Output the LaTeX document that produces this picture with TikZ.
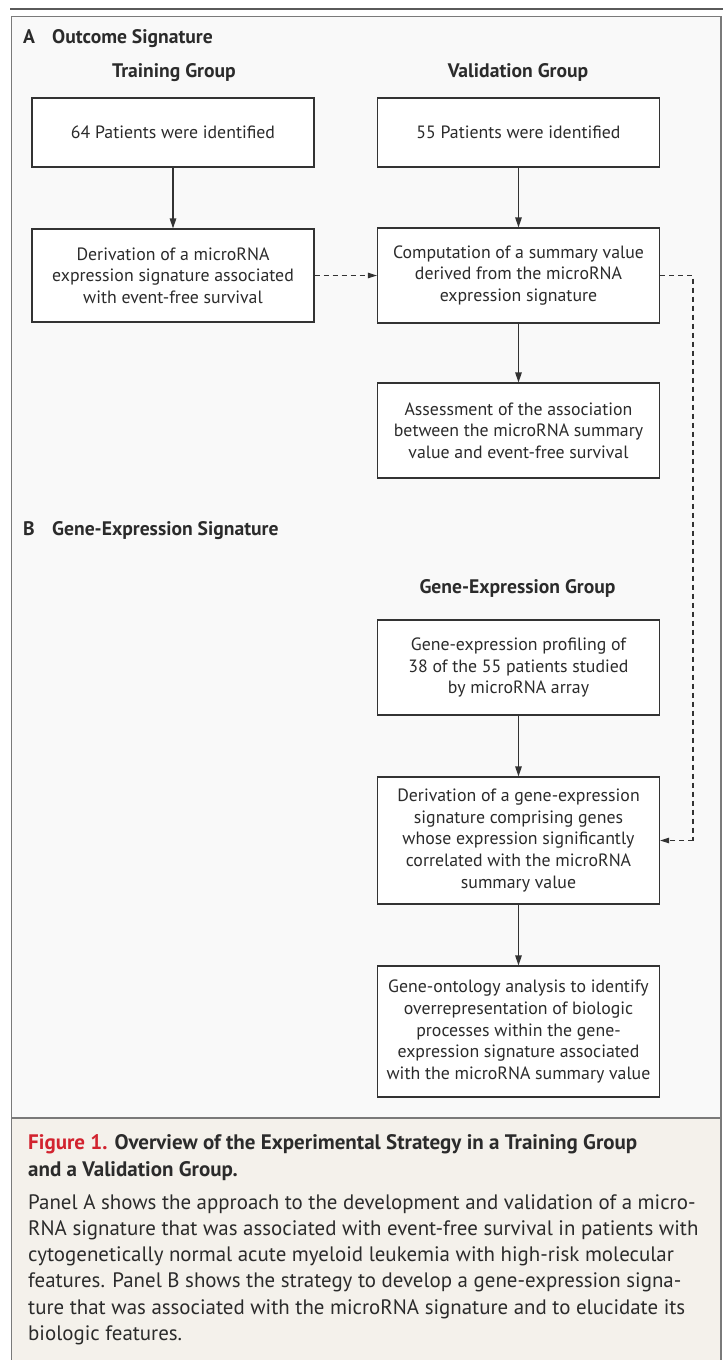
\documentclass[tikz,border=0pt]{standalone}
\usepackage{fontspec}
\setmainfont{PT Sans}
\usetikzlibrary{arrows.meta}
\definecolor{framefill}{HTML}{F9F9F9}
\definecolor{capfill}{HTML}{F4F1EB}
\definecolor{framegray}{HTML}{7A7A7A}
\definecolor{topgray}{HTML}{5A5A5A}
\definecolor{boxgray}{HTML}{333333}
\definecolor{figred}{HTML}{D2232F}
\definecolor{txt}{HTML}{2B2B2B}
\tikzset{
  stepbox/.style={draw=boxgray, fill=white, line width=1.2pt, minimum width=282pt,
    align=center, inner sep=0pt, text=txt,
    font=\fontsize{17.8}{21.7}\selectfont},
  flow/.style={draw=boxgray, line width=1.2pt, -{Triangle[length=10pt,width=6.5pt]}},
  dflow/.style={draw=boxgray, line width=1.1pt, dash pattern=on 5pt off 4pt,
    -{Triangle[length=9pt,width=5.5pt]}},
  dline/.style={draw=boxgray, line width=1.1pt, dash pattern=on 5pt off 4pt},
  head/.style={anchor=base west, inner sep=0pt, text=txt, font=\bfseries\fontsize{19.6}{22}\selectfont},
  chead/.style={anchor=base, inner sep=0pt, text=txt, font=\bfseries\fontsize{19.6}{22}\selectfont},
  capline/.style={anchor=base west, inner sep=0pt, text=txt, font=\fontsize{20.9}{26}\selectfont},
  caphead/.style={anchor=base west, inner sep=0pt, text=txt, font=\bfseries\fontsize{21}{26}\selectfont},
}
\begin{document}
\begin{tikzpicture}[x=1pt,y=-1pt]
\useasboundingbox (0,0) rectangle (723,1360);
\fill[white] (0,0) rectangle (723,1360);
% top rule
\draw[topgray, line width=2pt] (10,9) -- (723,9);
% frame
\filldraw[fill=framefill, draw=framegray, line width=1.5pt] (11.5,16.5) rectangle (721,1118);
\filldraw[fill=capfill, draw=framegray, line width=1.5pt] (11.5,1118) rectangle (721,1366);

% headings
\node[head] (hA) at (23,43.5) {A};
\node[head] (hAt) at (52,43.5) {Outcome Signature};
\node[chead] (hT) at (174,77) {Training Group};
\node[chead] (hV) at (518,77) {Validation Group};
\node[head] (hB) at (23,535) {B};
\node[head] (hBt) at (52,535) {Gene-Expression Signature};
\node[chead] (hG) at (517.5,593) {Gene-Expression Group};

% boxes
\node[stepbox, minimum height=69pt] (t1) at (173,132.5) {64 Patients were identified};
\node[stepbox, minimum height=93pt] (t2) at (173,275.5) {Derivation of a microRNA\\expression signature associated\\with event-free survival};
\node[stepbox, minimum height=69pt] (v1) at (518.5,132.5) {55 Patients were identified};
\node[stepbox, minimum height=95pt] (v2) at (518.5,275.5) {Computation of a summary value\\derived from the microRNA\\expression signature};
\node[stepbox, minimum height=95pt] (v3) at (518.5,430.5) {Assessment of the association\\between the microRNA summary\\value and event-free survival};
\node[stepbox, minimum height=95pt] (g1) at (518.5,667.5) {Gene-expression profiling of\\38 of the 55 patients studied\\by microRNA array};
\node[stepbox, minimum height=127pt] (g2) at (518.5,840.5) {Derivation of a gene-expression\\signature comprising genes\\whose expression significantly\\correlated with the microRNA\\summary value};
\node[stepbox, minimum height=131pt] (g3) at (518.5,1031.5) {Gene-ontology analysis to identify\\overrepresentation of biologic\\processes within the gene-\\expression signature associated\\with the microRNA summary value};

% connectors
\draw[flow] (t1) -- (t2);
\draw[flow] (v1) -- (v2);
\draw[flow] (v2) -- (v3);
\draw[flow] (g1) -- (g2);
\draw[flow] (g2) -- (g3);
\draw[dflow] (t2) -- (v2);
\coordinate (c1) at (693,275.5);
\coordinate (c2) at (693,840.5);
\draw[dline] (v2.east) -- (c1) -- (c2);
\draw[dflow] (c2) -- (g2.east);

% caption
\node[caphead] (k1) at (28,1149) {\textcolor{figred}{Figure 1.} Overview of the Experimental Strategy in a Training Group};
\node[caphead] (k2) at (28,1176) {and a Validation Group.};
\node[capline] (k3) at (28,1209) {Panel A shows the approach to the development and validation of a micro-};
\node[capline] (k4) at (28,1235.3) {RNA signature that was associated with event-free survival in patients with};
\node[capline] (k5) at (28,1261.6) {cytogenetically normal acute myeloid leukemia with high-risk molecular};
\node[capline] (k6) at (28,1287.9) {features. Panel B shows the strategy to develop a gene-expression signa-};
\node[capline] (k7) at (28,1314.2) {ture that was associated with the microRNA signature and to elucidate its};
\node[capline] (k8) at (28,1340.5) {biologic features.};
\end{tikzpicture}
\end{document}
